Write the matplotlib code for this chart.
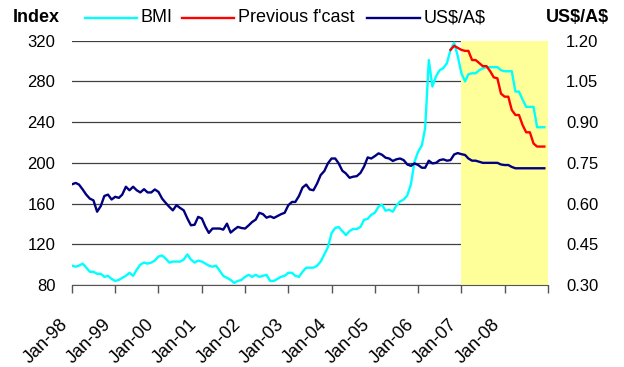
import matplotlib.pyplot as plt
from matplotlib.lines import Line2D
from matplotlib.transforms import ScaledTranslation
import numpy as np
import pandas as pd

plt.rcParams['font.family'] = ['Liberation Sans', 'DejaVu Sans']

# monthly data, Jan-98 .. Dec-08
bmi = [99, 98, 99, 101, 97, 93, 93, 91, 91, 88, 89, 86,
       84, 85, 87, 89, 92, 89, 95, 100, 102, 101, 102, 104,
       108, 109, 106, 102, 103, 103, 103, 105, 110, 105, 102, 104,
       103, 101, 99, 98, 99, 94, 89, 87, 85, 82, 84, 85,
       88, 90, 88, 90, 88, 89, 90, 84, 84, 86, 88, 89,
       92, 92, 89, 88, 93, 97, 97, 97, 99, 103, 110, 117,
       131, 136, 137, 133, 129, 133, 135, 135, 137, 144, 145, 149,
       151, 157, 159, 153, 154, 152, 158, 162, 164, 168, 179, 201,
       211, 217, 234, 301, 275, 285, 291, 293, 298, 311, 318, 305,
       288, 280, 287, 288, 288, 291, 293, 294, 294, 294, 294, 291,
       290, 290, 290, 270, 270, 262, 255, 255, 255, 235, 235, 235]

usd = [0.671, 0.676, 0.670, 0.652, 0.633, 0.618, 0.612, 0.570, 0.591, 0.628, 0.633, 0.615,
       0.625, 0.621, 0.633, 0.662, 0.649, 0.662, 0.649, 0.641, 0.653, 0.641, 0.641, 0.652,
       0.643, 0.618, 0.603, 0.588, 0.575, 0.594, 0.584, 0.575, 0.545, 0.520, 0.522, 0.551,
       0.545, 0.514, 0.492, 0.508, 0.508, 0.508, 0.504, 0.526, 0.493, 0.504, 0.514, 0.510,
       0.508, 0.520, 0.532, 0.541, 0.566, 0.561, 0.548, 0.553, 0.547, 0.554, 0.561, 0.566,
       0.594, 0.606, 0.606, 0.628, 0.659, 0.670, 0.652, 0.649, 0.674, 0.705, 0.720, 0.748,
       0.766, 0.766, 0.748, 0.721, 0.711, 0.695, 0.699, 0.701, 0.713, 0.736, 0.770, 0.766,
       0.775, 0.785, 0.780, 0.769, 0.766, 0.757, 0.763, 0.766, 0.760, 0.744, 0.739, 0.748,
       0.742, 0.732, 0.732, 0.758, 0.748, 0.750, 0.760, 0.763, 0.758, 0.760, 0.781, 0.786,
       0.782, 0.779, 0.766, 0.758, 0.758, 0.754, 0.750, 0.750, 0.750, 0.750, 0.750, 0.744,
       0.742, 0.742, 0.735, 0.730, 0.730, 0.730, 0.730, 0.730, 0.730, 0.730, 0.730, 0.730]

# previous forecast, Oct-06 .. Dec-08
prev_start = '2006-10-01'
prev = [311, 315, 313, 311, 310, 310, 301, 301, 298, 295, 295, 290, 284, 283,
        268, 265, 265, 252, 247, 247, 237, 230, 230, 219, 216, 216, 216]

shade_start, shade_end = '2007-01-01', '2009-01-01'
xtick_labels = ['Jan-98', 'Jan-99', 'Jan-00', 'Jan-01', 'Jan-02', 'Jan-03',
                'Jan-04', 'Jan-05', 'Jan-06', 'Jan-07', 'Jan-08', '']
left_ticks = [80, 120, 160, 200, 240, 280, 320]
right_ticks = [0.30, 0.45, 0.60, 0.75, 0.90, 1.05, 1.20]

dates = pd.date_range('1998-01-01', periods=len(bmi), freq='MS')
prev_dates = pd.date_range(prev_start, periods=len(prev), freq='MS')
tick_dates = pd.date_range('1998-01-01', periods=len(xtick_labels), freq='YS')

W, H = 624, 367
fig = plt.figure(figsize=(W / 100, H / 100), dpi=100)
ax = fig.add_axes([72 / W, 1 - 285 / H, (548 - 72) / W, (285 - 40.7) / H])

def fx(px):
    return px / W

def fy(py):
    return 1 - py / H

ax.set_axisbelow(True)
ax.grid(axis='y', color='#404040', lw=0.9)
ax.axvspan(pd.Timestamp(shade_start), pd.Timestamp(shade_end), color='#FFFF99', lw=0, zorder=1)

ax.plot(dates, bmi, color='#00FFFF', lw=1.7, zorder=3)
ax.plot(prev_dates, prev, color='#FF0000', lw=1.7, zorder=4)

ax.set_xlim(pd.Timestamp('1998-01-01'), pd.Timestamp('2009-01-01'))
ax.set_ylim(80, 320)
ax.set_yticks(left_ticks)
ax.set_xticks(tick_dates)
ax.set_xticklabels(xtick_labels, rotation=45, ha='right', va='center',
                   rotation_mode='anchor', fontsize=13)
ax.tick_params(axis='x', length=5.5, width=1, color='#555555', pad=21)
ax.tick_params(axis='y', length=0, pad=12, labelsize=12)
shift = ScaledTranslation(-7 / 100, 0, fig.dpi_scale_trans)
for lab in ax.get_xticklabels():
    lab.set_transform(lab.get_transform() + shift)
for s in ['top', 'left', 'right']:
    ax.spines[s].set_visible(False)
ax.spines['bottom'].set_color('#555555')
ax.spines['bottom'].set_zorder(2.5)

ax2 = ax.twinx()
ax2.plot(dates, usd, color='#000080', lw=1.7)
ax2.set_ylim(0.30, 1.20)
ax2.set_yticks(right_ticks)
ax2.set_yticklabels([f'{v:.2f}' for v in right_ticks])
ax2.tick_params(axis='y', length=0, pad=13, labelsize=12)
for s in ax2.spines.values():
    s.set_visible(False)

# axis titles
fig.text(fx(13), fy(17), 'Index', fontsize=13, fontweight='bold', va='center')
fig.text(fx(609), fy(17), r'US\$/A\$', fontsize=13, fontweight='bold', va='center', ha='right')

# legend
legend_items = [(85, 137, 141, '#00FFFF', 'BMI'),
                (182, 234, 238, '#FF0000', "Previous f'cast"),
                (367, 420, 424, '#000080', r'US\$/A\$')]
for x0, x1, xt, c, lab in legend_items:
    fig.add_artist(Line2D([fx(x0), fx(x1)], [fy(18), fy(18)], color=c, lw=1.7))
    fig.text(fx(xt), fy(18), lab, fontsize=13, va='center')

fig.savefig('out.png', dpi=100)
